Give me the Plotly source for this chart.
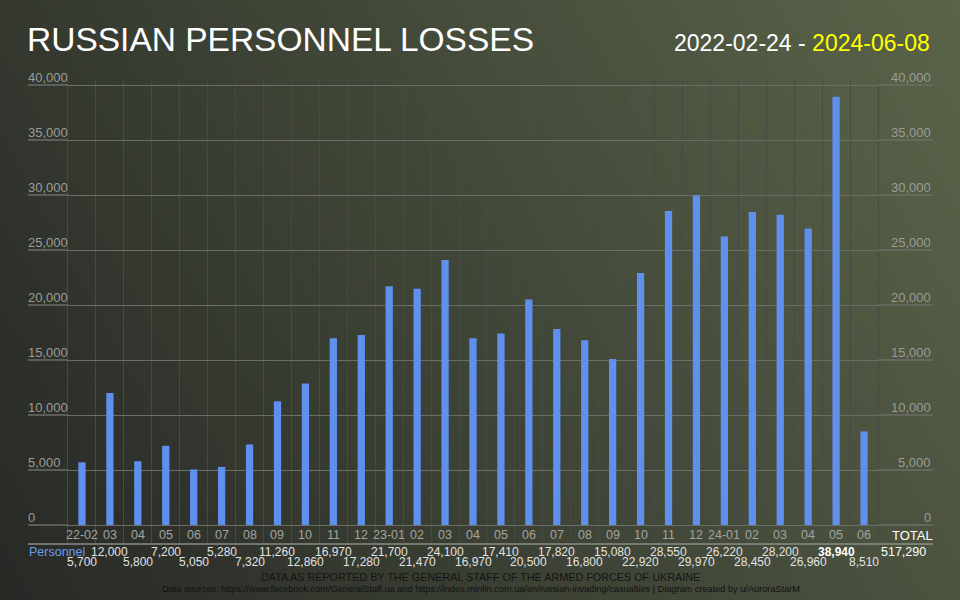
import plotly.graph_objects as go
import numpy as np

# ---------------- data ----------------
months = ["22-02", "03", "04", "05", "06", "07", "08", "09", "10", "11", "12",
          "23-01", "02", "03", "04", "05", "06", "07", "08", "09", "10", "11", "12",
          "24-01", "02", "03", "04", "05", "06"]
personnel = [5700, 12000, 5800, 7200, 5050, 5280, 7320, 11260, 12860, 16970, 17280,
             21700, 21470, 24100, 16970, 17410, 20500, 17820, 16800, 15080, 22920, 28550, 29970,
             26220, 28450, 28200, 26960, 38940, 8510]
total_label = "TOTAL"
total_value = 517290
series_name = "Personnel"
y_ticks = [0, 5000, 10000, 15000, 20000, 25000, 30000, 35000, 40000]
title_text = "RUSSIAN PERSONNEL LOSSES"
date_start = "2022-02-24"
date_end = "2024-06-08"
footer_1 = "DATA AS REPORTED BY THE GENERAL STAFF OF THE ARMED FORCES OF UKRAINE"
footer_2 = ("Data sources: https://www.facebook.com/GeneralStaff.ua and "
            "https://index.minfin.com.ua/en/russian-invading/casualties | Diagram created by u/AuroraStarM")

# ---------------- geometry / style ----------------
W, H = 960, 600
FONT = "Liberation Sans, Arial, sans-serif"
BAR_COLOR = "#5f90ee"
HGRID = "#6b6e67"
VGRID = "#454a42"
TICK_COLOR = "#9b9c98"
LBL_COLOR = "#a3a4a0"
VAL_COLOR = "#e2e2e2"

PLOT_L, PLOT_R = 68, 878
Y0_PX, Y40_PX = 525, 85
TOP_PX, BOT_PX = 80, 544
LINE_L, LINE_R = 28, 933


def fx(p):
    return p / W


def fy(p):
    return 1 - p / H


scale = 40000 / (Y0_PX - Y40_PX)


def val_at(p):
    return (Y0_PX - p) * scale


n = len(months)
xs = list(range(n))

fig = go.Figure()

# background gradient (decorative)
bg_z = [[0.0, 0.72], [0.25, 1.0]]
fig.add_trace(go.Heatmap(
    z=bg_z, x=[0, 1], y=[0, 1], zsmooth="best", showscale=False, hoverinfo="skip",
    colorscale=[[0, "#272926"], [1, "#5a6449"]], zmin=0, zmax=1,
    xaxis="x", yaxis="y"))

fig.add_trace(go.Bar(
    x=xs, y=personnel, width=0.26, marker=dict(color=BAR_COLOR, line=dict(width=0)),
    name=series_name, xaxis="x2", yaxis="y2", hoverinfo="y"))

annotations = []
shapes = []

# title & dates
annotations.append(dict(x=fx(25), y=fy(40), xref="paper", yref="paper", xanchor="left",
                        yanchor="middle", text=title_text, showarrow=False,
                        font=dict(family=FONT, size=33.5, color="#ffffff")))
annotations.append(dict(x=fx(932), y=fy(43), xref="paper", yref="paper", xanchor="right",
                        yanchor="middle",
                        text=f"{date_start} - <span style='color:#ffff00'>{date_end}</span>",
                        showarrow=False, font=dict(family=FONT, size=23, color="#ffffff")))

# y tick labels on both sides, sitting above the gridlines
for v in y_ticks:
    for xpos, anc in ((fx(LINE_L - 2), "left"), (fx(LINE_R), "right")):
        annotations.append(dict(x=xpos, y=v, xref="paper", yref="y2", xanchor=anc,
                                yanchor="bottom", yshift=-2, text=f"{v:,}", showarrow=False,
                                font=dict(family=FONT, size=13, color=TICK_COLOR)))
    # gridline extensions outside plot area
    shapes.append(dict(type="line", xref="paper", yref="y2", x0=fx(LINE_L), x1=fx(PLOT_L),
                       y0=v, y1=v, line=dict(color=HGRID, width=1.3)))
    shapes.append(dict(type="line", xref="paper", yref="y2", x0=fx(PLOT_R), x1=fx(LINE_R),
                       y0=v, y1=v, line=dict(color=HGRID, width=1.3)))

# line under category labels
shapes.append(dict(type="line", xref="paper", yref="paper", x0=fx(LINE_L), x1=fx(LINE_R),
                   y0=fy(BOT_PX), y1=fy(BOT_PX), line=dict(color="#8a8c86", width=1.5)))

# category labels and values
vmax = max(personnel)
for i, (m, v) in enumerate(zip(months, personnel)):
    annotations.append(dict(x=i, y=fy(535), xref="x2", yref="paper", xanchor="center",
                            yanchor="middle", text=m, showarrow=False,
                            font=dict(family=FONT, size=12.5, color=LBL_COLOR)))
    txt = f"{v:,}"
    if v == vmax:
        txt = f"<b>{txt}</b>"
    annotations.append(dict(x=i, y=fy(552 if i % 2 else 562), xref="x2", yref="paper",
                            xanchor="center", yanchor="middle", text=txt, showarrow=False,
                            font=dict(family=FONT, size=12,
                                      color="#ffffff" if v == vmax else VAL_COLOR)))

annotations.append(dict(x=fx(912), y=fy(535), xref="paper", yref="paper", xanchor="center",
                        yanchor="middle", text=total_label, showarrow=False,
                        font=dict(family=FONT, size=13, color="#ffffff")))
annotations.append(dict(x=fx(903), y=fy(552), xref="paper", yref="paper", xanchor="center",
                        yanchor="middle", text=f"{total_value:,}", showarrow=False,
                        font=dict(family=FONT, size=12.5, color="#ffffff")))
annotations.append(dict(x=fx(LINE_L - 1), y=fy(552), xref="paper", yref="paper", xanchor="left",
                        yanchor="middle", text=series_name, showarrow=False,
                        font=dict(family=FONT, size=12.5, color="#6a9af0")))

# footers
annotations.append(dict(x=fx(480), y=fy(577), xref="paper", yref="paper", xanchor="center",
                        yanchor="middle", text=footer_1, showarrow=False,
                        font=dict(family=FONT, size=10.8, color="#141414")))
annotations.append(dict(x=fx(481), y=fy(589), xref="paper", yref="paper", xanchor="center",
                        yanchor="middle", text=footer_2, showarrow=False,
                        font=dict(family=FONT, size=9.2, color="#111111")))

fig.update_layout(
    width=W, height=H,
    margin=dict(l=0, r=0, t=0, b=0),
    paper_bgcolor="#333630", plot_bgcolor="rgba(0,0,0,0)",
    showlegend=False,
    xaxis=dict(domain=[0, 1], range=[0, 1], visible=False, fixedrange=True),
    yaxis=dict(domain=[0, 1], range=[0, 1], visible=False, fixedrange=True),
    xaxis2=dict(domain=[fx(PLOT_L), fx(PLOT_R)], anchor="y2", range=[-0.5, n - 0.5],
                tickvals=[i - 0.5 for i in range(n + 1)], showgrid=True, gridcolor=VGRID,
                gridwidth=1, showticklabels=False, ticks="", zeroline=False, fixedrange=True),
    yaxis2=dict(domain=[fy(BOT_PX), fy(TOP_PX)], anchor="x2",
                range=[val_at(BOT_PX), val_at(TOP_PX)], tickvals=y_ticks, showgrid=True,
                gridcolor=HGRID, gridwidth=1.3, showticklabels=False, ticks="", zeroline=False,
                showline=True, mirror=True, linecolor=VGRID, linewidth=1, fixedrange=True),
    annotations=annotations,
    shapes=shapes,
)

fig.write_html(
    "out.html",
    config={"displayModeBar": False},
    post_script="document.body.style.margin='0';document.body.style.overflow='hidden';",
)
